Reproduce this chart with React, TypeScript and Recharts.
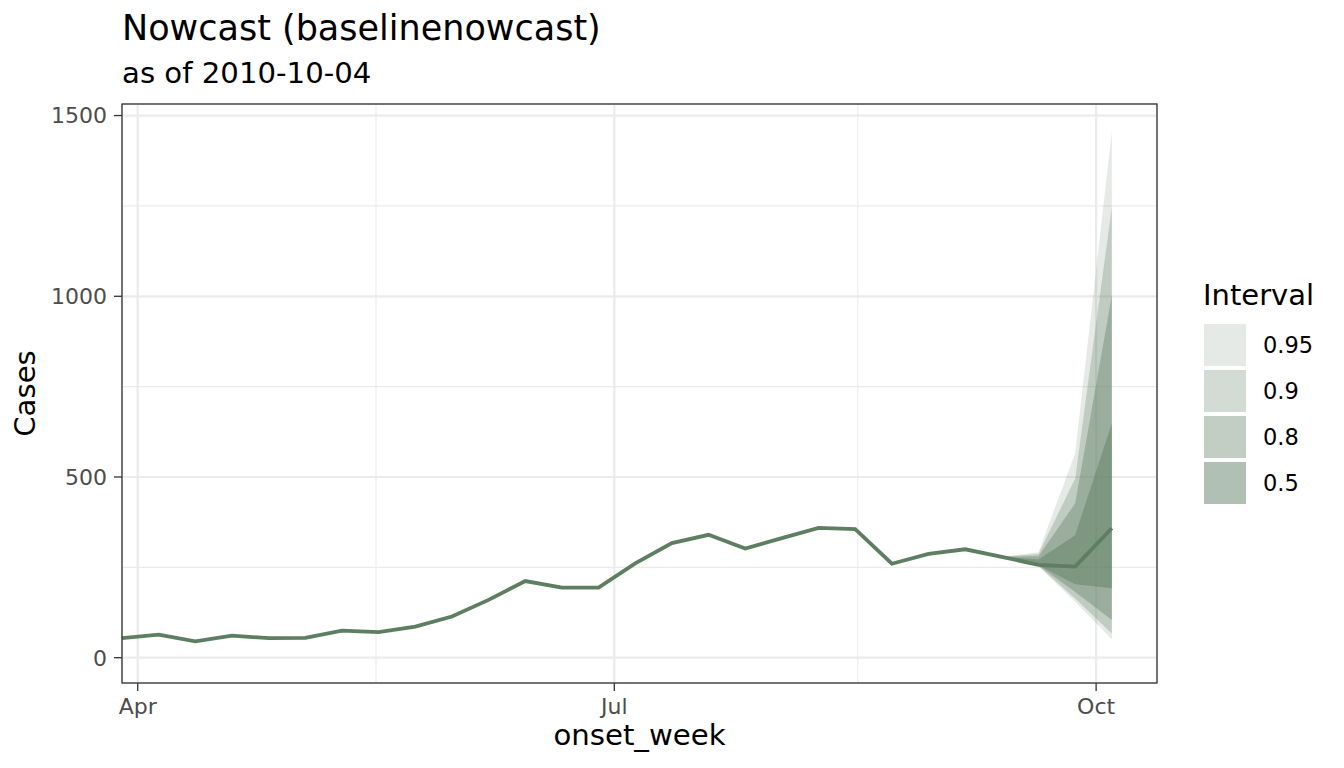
import { ComposedChart, Area, Line, XAxis, YAxis, CartesianGrid } from "recharts";

// weekly onset dates and nowcast median
const weeks = [
  "2010-03-29", "2010-04-05", "2010-04-12", "2010-04-19", "2010-04-26",
  "2010-05-03", "2010-05-10", "2010-05-17", "2010-05-24", "2010-05-31",
  "2010-06-07", "2010-06-14", "2010-06-21", "2010-06-28", "2010-07-05",
  "2010-07-12", "2010-07-19", "2010-07-26", "2010-08-02", "2010-08-09",
  "2010-08-16", "2010-08-23", "2010-08-30", "2010-09-06", "2010-09-13",
  "2010-09-20", "2010-09-27", "2010-10-04",
];
const cases = [
  54, 64, 45, 61, 54, 55, 75, 71, 86, 114, 160, 212, 194, 194, 261,
  317, 340, 302, 331, 359, 356, 260, 287, 300, 279, 257, 252, 358,
];

// prediction intervals, only for the last four weeks
const bandWeeks = ["2010-09-13", "2010-09-20", "2010-09-27", "2010-10-04"];
const q95Lo = [279, 253, 155, 51];
const q95Hi = [279, 292, 566, 1455];
const q90Lo = [279, 254, 164, 67];
const q90Hi = [279, 287, 496, 1247];
const q80Lo = [279, 255, 182, 104];
const q80Hi = [279, 281, 427, 1003];
const q50Lo = [279, 256, 203, 192];
const q50Hi = [279, 272, 339, 648];

const intervals = ["0.95", "0.9", "0.8", "0.5"];
const alphas = [0.16, 0.27, 0.38, 0.49];

const xTicks = ["2010-04-01", "2010-07-01", "2010-10-01"];
const xTickLabels = ["Apr", "Jul", "Oct"];
const xMinor = ["2010-05-16T12:00", "2010-08-16T12:00"];
const yTicks = [0, 500, 1000, 1500];
const yMinor = [250, 750, 1250];

const GREEN = "#5e7e61";
const FONT = "DejaVu Sans";

const toMs = (d: string) => Date.parse(d.length > 10 ? d + ":00Z" : d + "T00:00:00Z");

const data = weeks.map((w, i) => {
  const row: any = { t: toMs(w), cases: cases[i] };
  const j = bandWeeks.indexOf(w);
  if (j >= 0) {
    row.q95 = [q95Lo[j], q95Hi[j]];
    row.q90 = [q90Lo[j], q90Hi[j]];
    row.q80 = [q80Lo[j], q80Hi[j]];
    row.q50 = [q50Lo[j], q50Hi[j]];
  }
  return row;
});

const xMin = toMs("2010-03-29");
const xMax = toMs("2010-10-12") + 15 * 3600e3;
const xTickMs = xTicks.map(toMs);
const xMinorMs = xMinor.map(toMs);

const tickStyle = { fill: "#4d4d4d", fontSize: 22, fontFamily: FONT };
const tickLine = { stroke: "#333333", strokeWidth: 1.3 };

const App = () => {
  return (
    <div style={{ position: "absolute", left: 0, top: 0, width: 1344, height: 768, background: "#fff" }}>
      <ComposedChart
        width={1344}
        height={768}
        data={data}
        margin={{ top: 104, right: 187, bottom: 25, left: 0 }}
      >
        {/* minor grid, then major grid */}
        <CartesianGrid stroke="#ebebeb" strokeWidth={1.1} horizontalValues={yMinor} verticalValues={xMinorMs} />
        <CartesianGrid stroke="#ebebeb" strokeWidth={2.2} />
        <XAxis
          dataKey="t"
          type="number"
          domain={[xMin, xMax]}
          allowDataOverflow
          ticks={xTickMs}
          interval={0}
          tickFormatter={(v: number) => xTickLabels[xTickMs.indexOf(v)]}
          height={60}
          tickSize={8}
          tickMargin={7}
          axisLine={false}
          tickLine={tickLine}
          tick={tickStyle}
        />
        <YAxis
          type="number"
          domain={[-70, 1532]}
          allowDataOverflow
          ticks={yTicks}
          interval={0}
          width={122}
          tickSize={8}
          tickMargin={7}
          axisLine={false}
          tickLine={tickLine}
          tick={tickStyle}
        />
        <Area type="linear" dataKey="q95" stroke="none" fill={GREEN} fillOpacity={alphas[0]} isAnimationActive={false} dot={false} activeDot={false} />
        <Area type="linear" dataKey="q90" stroke="none" fill={GREEN} fillOpacity={alphas[1]} isAnimationActive={false} dot={false} activeDot={false} />
        <Area type="linear" dataKey="q80" stroke="none" fill={GREEN} fillOpacity={alphas[2]} isAnimationActive={false} dot={false} activeDot={false} />
        <Area type="linear" dataKey="q50" stroke="none" fill={GREEN} fillOpacity={alphas[3]} isAnimationActive={false} dot={false} activeDot={false} />
        <Line type="linear" dataKey="cases" stroke={GREEN} strokeWidth={3.8} dot={false} activeDot={false} isAnimationActive={false} />
      </ComposedChart>

      {/* titles, panel border, axis titles and legend */}
      <svg
        width={1344}
        height={768}
        style={{ position: "absolute", left: 0, top: 0, pointerEvents: "none" }}
        fontFamily={FONT}
      >
        <rect x={122} y={104} width={1035} height={579} fill="none" stroke="#333333" strokeWidth={1.3} />
        <text x={122} y={40} fontSize={35} fill="#000">Nowcast (baselinenowcast)</text>
        <text x={122} y={83} fontSize={29.2} fill="#000">as of 2010-10-04</text>
        <text x={639.5} y={745} fontSize={29.2} textAnchor="middle" fill="#000">onset_week</text>
        <text x={35} y={393.5} fontSize={29.2} textAnchor="middle" fill="#000" transform="rotate(-90 35 393.5)">Cases</text>

        <text x={1203} y={305} fontSize={29} fill="#000">Interval</text>
        {intervals.map((lab, i) => (
          <g key={lab}>
            <rect x={1204} y={324 + i * 46} width={42} height={42} fill={GREEN} fillOpacity={alphas[i]} />
            <text x={1263} y={353 + i * 46} fontSize={22.5} fill="#000">{lab}</text>
          </g>
        ))}
      </svg>
    </div>
  );
};

export default App;
